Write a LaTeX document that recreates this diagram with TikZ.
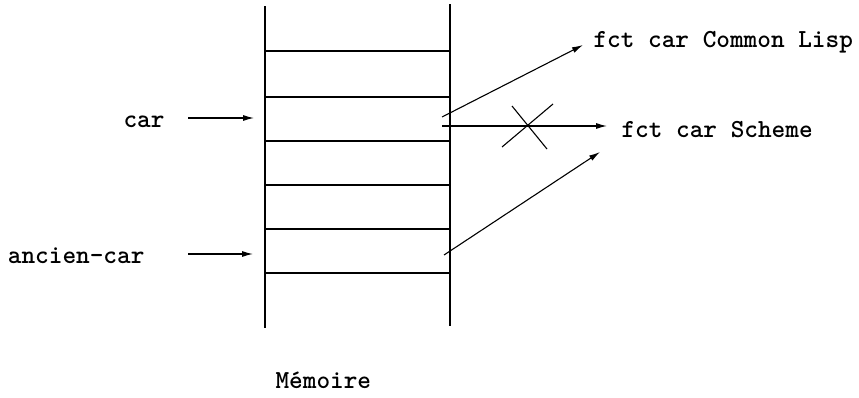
\documentclass[tikz,border=0pt]{standalone}
\usetikzlibrary{arrows.meta}
\begin{document}
\begin{tikzpicture}[x=1pt,y=-1pt,
  line width=1.1pt,
  lbl/.style={font=\fontsize{26}{31}\selectfont\ttfamily\bfseries, inner sep=0pt},
  ptr/.style={-{Latex[length=11pt,width=6pt]}},
  cell/.style={line width=1.1pt}]
\useasboundingbox (0,0) rectangle (859,397);

% memory column
\coordinate (colTL) at (265,6);
\coordinate (colBL) at (265,328);
\coordinate (colTR) at (450,4);
\coordinate (colBR) at (450,326);
\draw[cell] (colTL) -- (colBL);
\draw[cell] (colTR) -- (colBR);
\foreach \y in {51,97,141,185,229,273}
  \draw[cell] (265,\y) -- (450,\y);

% labels
\node[lbl, anchor=base east] (car) at (165,127) {car};
\node[lbl, anchor=base east] (anc) at (145,263) {ancien-car};
\node[lbl, anchor=base west] (cl) at (593,47) {fct car Common Lisp};
\node[lbl, anchor=base west] (sch) at (621,137) {fct car Scheme};
\node[lbl, anchor=base west] (mem) at (275,388) {M\'emoire};

% incoming pointers
\coordinate (carS) at (188,118);
\coordinate (carE) at (254,118);
\coordinate (ancS) at (188,254);
\coordinate (ancE) at (253,254);
\draw[ptr] (carS) -- (carE);
\draw[ptr] (ancS) -- (ancE);

% outgoing pointers
\coordinate (p1) at (442,117);
\coordinate (p2) at (442,126);
\coordinate (p3) at (444,255);
\coordinate (t1) at (583,45);
\coordinate (t2) at (607,126);
\coordinate (t3) at (600,152);
\draw[ptr] (p1) -- (t1);
\draw[ptr] (p2) -- (t2);
\draw[ptr] (p3) -- (t3);

% cross on the Scheme pointer
\coordinate (x1) at (512,106);
\coordinate (x2) at (547,149);
\coordinate (x3) at (502,147);
\coordinate (x4) at (553,104);
\draw (x1) -- (x2);
\draw (x3) -- (x4);
\end{tikzpicture}
\end{document}
